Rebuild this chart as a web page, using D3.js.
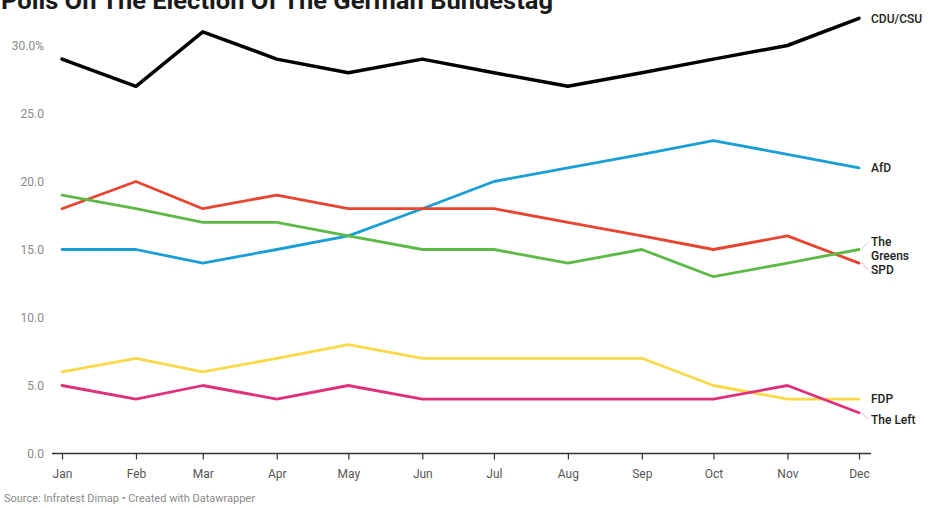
<!DOCTYPE html>
<html>
<head>
<meta charset="utf-8">
<script src="https://cdn.jsdelivr.net/npm/d3@7"></script>
<style>
  html, body { margin: 0; padding: 0; background: #fff; }
  svg { display: block; font-family: Roboto, "Noto Sans", sans-serif; }
</style>
</head>
<body>
<svg id="chart" width="931" height="508"></svg>
<script>
// Monthly poll results, 2023 (percent)
const months = ["Jan","Feb","Mar","Apr","May","Jun","Jul","Aug","Sep","Oct","Nov","Dec"];
const cduCsu   = [29, 27, 31, 29, 28, 29, 28, 27, 28, 29, 30, 32];
const afd      = [15, 15, 14, 15, 16, 18, 20, 21, 22, 23, 22, 21];
const spd      = [18, 20, 18, 19, 18, 18, 18, 17, 16, 15, 16, 14];
const greens   = [19, 18, 17, 17, 16, 15, 15, 14, 15, 13, 14, 15];
const fdp      = [6, 7, 6, 7, 8, 7, 7, 7, 7, 5, 4, 4];
const theLeft  = [5, 4, 5, 4, 5, 4, 4, 4, 4, 4, 5, 3];
const yTicks   = [0, 5, 10, 15, 20, 25, 30];

const partyNames  = ["CDU/CSU", "AfD", "SPD", "The Greens", "FDP", "The Left"];
const partyValues = [cduCsu, afd, spd, greens, fdp, theLeft];
const partyColors = ["#000000", "#1a9ed6", "#e8442f", "#5cb946", "#f9d94a", "#e0307c"];
const partyWidths = [3.5, 2.8, 2.8, 2.8, 2.8, 2.8];
// label positions (value space) where labels would collide
const labelAt     = [null, null, 13.5, 15.05, null, 2.5];

const series = partyNames.map((name, i) => ({
  name, color: partyColors[i], width: partyWidths[i], labelAt: labelAt[i],
  values: partyValues[i].map((v, j) => ({ date: new Date(2023, j, 1), month: months[j], value: v }))
}));

const svg = d3.select("#chart");

const x = d3.scaleTime()
  .domain([new Date(2023, 0, 1), new Date(2023, 11, 1)])
  .range([62, 859]);
const y = d3.scaleLinear()
  .domain([0, 30])
  .range([453.5, 45.5]);

// Title (runs off the top edge)
svg.append("text")
  .attr("x", 1).attr("y", 9)
  .attr("font-size", 24).attr("font-weight", 700)
  .attr("fill", "#1a1a1a")
  .attr("textLength", 552).attr("lengthAdjust", "spacingAndGlyphs")
  .text("Polls On The Election Of The German Bundestag");

// Y axis labels
svg.append("g").selectAll("text")
  .data(yTicks)
  .join("text")
  .attr("x", 44)
  .attr("y", d => y(d))
  .attr("dy", "0.35em")
  .attr("text-anchor", "end")
  .attr("font-size", 12)
  .attr("fill", "#8a8a8a")
  .text(d => d === 30 ? d.toFixed(1) + "%" : d.toFixed(1));

// X axis
const xAxis = d3.axisBottom(x)
  .tickValues(months.map((m, j) => new Date(2023, j, 1)))
  .tickFormat(d => months[d.getMonth()])
  .tickSize(6)
  .tickSizeOuter(0);

const gx = svg.append("g")
  .attr("transform", `translate(0,${y(0)})`)
  .call(xAxis);
gx.select(".domain").remove();
gx.insert("line", ":first-child")
  .attr("x1", 52).attr("x2", 871)
  .attr("y1", 0).attr("y2", 0)
  .attr("stroke", "#333").attr("stroke-width", 1.3);
gx.selectAll(".tick line").attr("stroke", "#333").attr("stroke-width", 1.2);
gx.selectAll(".tick text")
  .attr("y", 16)
  .attr("font-size", 12)
  .attr("font-family", "Roboto, sans-serif")
  .attr("fill", "#555");

// Lines
const line = d3.line()
  .x(d => x(d.date))
  .y(d => y(d.value));

svg.append("g").selectAll("path")
  .data(series)
  .join("path")
  .attr("fill", "none")
  .attr("stroke", d => d.color)
  .attr("stroke-width", d => d.width)
  .attr("stroke-linejoin", "round")
  .attr("stroke-linecap", "round")
  .attr("d", d => line(d.values));

// Direct labels at the line ends
const labels = svg.append("g");
series.forEach(s => {
  const last = s.values[s.values.length - 1];
  const lx = x(last.date) + 12;
  const ly = y(s.labelAt != null ? s.labelAt : last.value);
  const words = s.name === "The Greens" ? ["The", "Greens"] : [s.name];
  if (s.labelAt != null) {
    labels.append("line")
      .attr("x1", x(last.date) + 3).attr("y1", y(last.value))
      .attr("x2", lx - 3).attr("y2", ly + (words.length > 1 ? -7 : 0))
      .attr("stroke", s.color)
      .attr("stroke-width", 1)
      .attr("stroke-dasharray", "1,1.5");
  }
  const t = labels.append("text")
    .attr("x", lx)
    .attr("font-size", 12)
    .attr("font-weight", 500)
    .attr("fill", "#222");
  words.forEach((w, i) => {
    t.append("tspan")
      .attr("x", lx)
      .attr("y", ly + (words.length > 1 ? (i - 0.5) * 14.5 : 0))
      .attr("dy", "0.35em")
      .text(w);
  });
});

// Source line
svg.append("text")
  .attr("x", 4).attr("y", 502)
  .attr("font-size", 11)
  .attr("fill", "#8a8a8a")
  .text("Source: Infratest Dimap \u2022 Created with Datawrapper");
</script>
</body>
</html>
